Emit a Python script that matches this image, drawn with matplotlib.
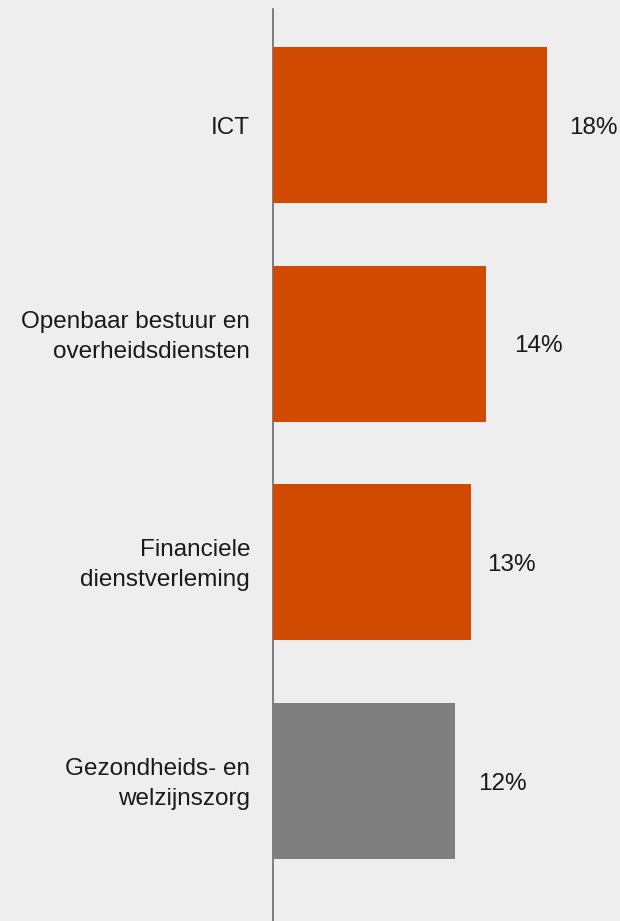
import matplotlib
matplotlib.use("Agg")
import matplotlib.pyplot as plt

categories = ["ICT", "Openbaar bestuur en\noverheidsdiensten", "Financiele\ndienstverleming", "Gezondheids- en\nwelzijnszorg"]
values = [18, 14, 13, 12]
value_labels = ["18%", "14%", "13%", "12%"]
colors = ["#d04a02", "#d04a02", "#d04a02", "#7f7f7f"]

# small layout nudges (pixels) to mimic the reference's placement
value_dx = [23, 28, 17, 23]
cat_dy = [0, 10, 0, 0]

bg = "#eeeeee"
plt.rcParams["font.family"] = ["Liberation Sans", "DejaVu Sans"]

FS = 17.5
CAP = FS * 100 / 72 * 0.716   # cap height in px
LS_PX = 30.5                 # line pitch in px
LINESPACING = 1.47

fig = plt.figure(figsize=(6.2, 9.21), dpi=100, facecolor=bg)
W, H = 620, 921
left_px, right_px, top_px, bot_px = 273, 620, 9, 921
ax = fig.add_axes([left_px / W, 1 - bot_px / H, (right_px - left_px) / W, (bot_px - top_px) / H])
ax.set_facecolor(bg)

pos = list(range(len(categories)))
ax.barh(pos, values, height=0.713, color=colors, zorder=3)
ax.set_xlim(0, (right_px - left_px) / 15.2)
ax.set_ylim(3.64, -0.53)

def last_baseline_dy(n):
    return -(CAP + (n - 1) * LS_PX) / 2

for p, v, lab, dx in zip(pos, values, value_labels, value_dx):
    ax.annotate(lab, (v, p), xytext=(dx, last_baseline_dy(1)), textcoords="offset pixels",
                ha="left", va="baseline", fontsize=FS, color="#1a1a1a")
for p, c, dy in zip(pos, categories, cat_dy):
    n = c.count("\n") + 1
    ax.annotate(c, (0, p), xytext=(-23, last_baseline_dy(n) + dy), textcoords="offset pixels",
                ha="right", va="baseline", fontsize=FS, color="#1a1a1a",
                linespacing=LINESPACING, multialignment="right", annotation_clip=False)

ax.set_xticks([])
ax.set_yticks([])
for s in ["top", "right", "bottom"]:
    ax.spines[s].set_visible(False)
ax.spines["left"].set_color("#6b6b6b")
ax.spines["left"].set_linewidth(1.2)

fig.savefig("out.png", dpi=100, facecolor=bg)
